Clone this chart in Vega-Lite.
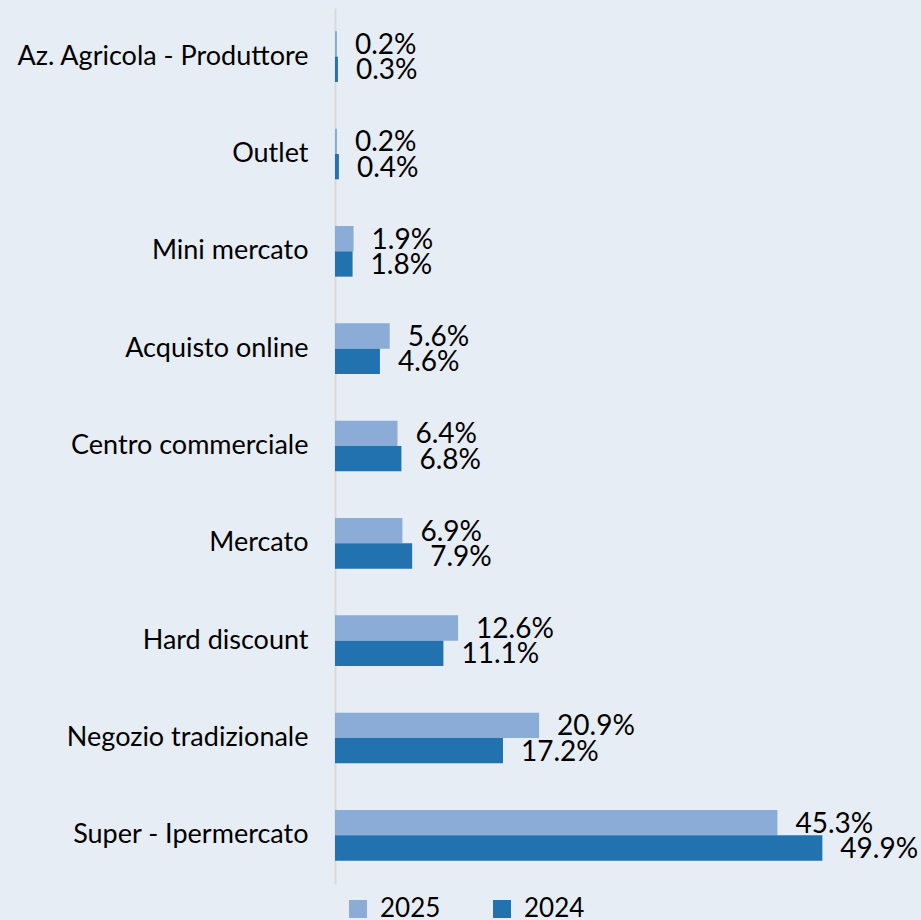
{
  "$schema": "https://vega.github.io/schema/vega-lite/v6.json",
  "autosize": "none",
  "width": 586,
  "height": 876,
  "padding": {"left": 335, "top": 8, "right": 0, "bottom": 36},
  "background": "#E7EDF5",
  "config": {
    "view": {"stroke": null},
    "font": "Lato"
  },
  "data": {
    "values": [
      {"canale": "Az. Agricola - Produttore", "anno": "2025", "quota": 0.002},
      {"canale": "Az. Agricola - Produttore", "anno": "2024", "quota": 0.003},
      {"canale": "Outlet", "anno": "2025", "quota": 0.002},
      {"canale": "Outlet", "anno": "2024", "quota": 0.004},
      {"canale": "Mini mercato", "anno": "2025", "quota": 0.019},
      {"canale": "Mini mercato", "anno": "2024", "quota": 0.018},
      {"canale": "Acquisto online", "anno": "2025", "quota": 0.056},
      {"canale": "Acquisto online", "anno": "2024", "quota": 0.046},
      {"canale": "Centro commerciale", "anno": "2025", "quota": 0.064},
      {"canale": "Centro commerciale", "anno": "2024", "quota": 0.068},
      {"canale": "Mercato", "anno": "2025", "quota": 0.069},
      {"canale": "Mercato", "anno": "2024", "quota": 0.079},
      {"canale": "Hard discount", "anno": "2025", "quota": 0.126},
      {"canale": "Hard discount", "anno": "2024", "quota": 0.111},
      {"canale": "Negozio tradizionale", "anno": "2025", "quota": 0.209},
      {"canale": "Negozio tradizionale", "anno": "2024", "quota": 0.172},
      {"canale": "Super - Ipermercato", "anno": "2025", "quota": 0.453},
      {"canale": "Super - Ipermercato", "anno": "2024", "quota": 0.499}
    ]
  },
  "encoding": {
    "y": {
      "field": "canale",
      "type": "nominal",
      "sort": null,
      "scale": {"paddingInner": 0.48, "paddingOuter": 0.24},
      "axis": {
        "title": null,
        "ticks": false,
        "domainColor": "#D9D9D9",
        "domainWidth": 2,
        "labelFontSize": 27,
        "labelColor": "#000000",
        "labelPadding": 27,
        "labelLimit": 0,
        "labelFont": "Lato"
      }
    },
    "yOffset": {"field": "anno", "type": "nominal", "sort": ["2025", "2024"]},
    "x": {
      "field": "quota",
      "type": "quantitative",
      "scale": {"domain": [0, 0.6]},
      "axis": null
    }
  },
  "layer": [
    {
      "mark": {"type": "bar"},
      "encoding": {
        "color": {
          "field": "anno",
          "type": "nominal",
          "sort": ["2025", "2024"],
          "scale": {"domain": ["2025", "2024"], "range": ["#8AACD6", "#2272B0"]},
          "legend": {
            "title": null,
            "orient": "none",
            "direction": "horizontal",
            "legendX": 10,
            "legendY": 888,
            "symbolType": "square",
            "symbolSize": 324,
            "symbolStrokeWidth": 0,
            "labelFontSize": 26,
            "labelColor": "#000000",
            "labelOffset": 9,
            "columnPadding": 48,
            "labelFont": "Lato"
          }
        }
      }
    },
    {
      "mark": {"type": "text", "align": "left", "baseline": "middle", "dx": 18, "dy": 2, "fontSize": 28, "color": "#000000", "font": "Lato"},
      "encoding": {
        "text": {"field": "quota", "type": "quantitative", "format": ".1%"}
      }
    }
  ]
}
